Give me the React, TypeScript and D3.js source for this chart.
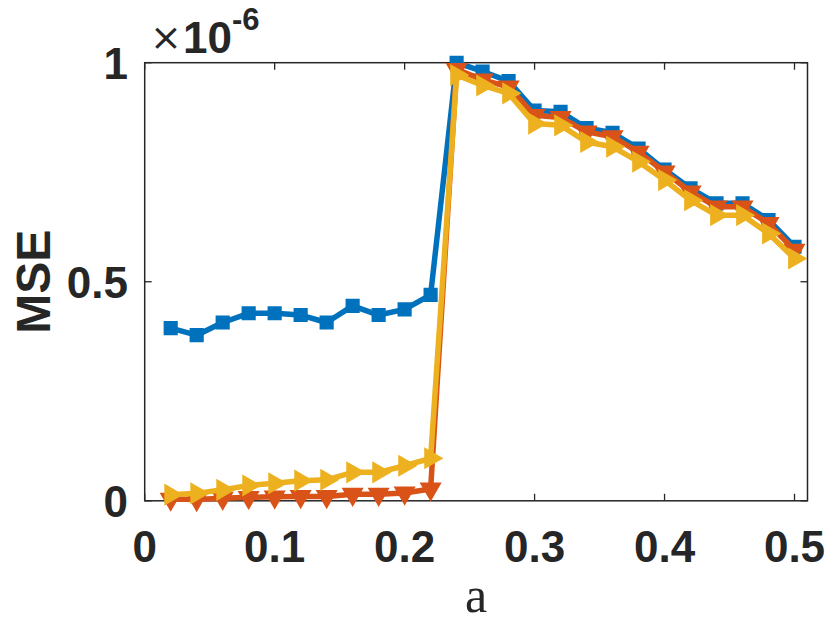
import React from "react";
import * as d3 from "d3";

// values are in units of 1e-6
const aValues = [
  0.02, 0.04, 0.06, 0.08, 0.1, 0.12, 0.14, 0.16, 0.18, 0.2, 0.22, 0.24, 0.26,
  0.28, 0.3, 0.32, 0.34, 0.36, 0.38, 0.4, 0.42, 0.44, 0.46, 0.48, 0.5,
];
const blueMse = [
  0.394, 0.378, 0.407, 0.428, 0.428, 0.424, 0.407, 0.445, 0.424, 0.437, 0.47,
  1.0, 0.98, 0.958, 0.891, 0.888, 0.851, 0.84, 0.804, 0.756, 0.713, 0.679,
  0.679, 0.641, 0.58,
];
const redMse = [
  0.004, 0.003, 0.006, 0.008, 0.009, 0.01, 0.01, 0.015, 0.015, 0.018, 0.027,
  0.985, 0.961, 0.945, 0.88, 0.875, 0.842, 0.831, 0.796, 0.751, 0.705, 0.671,
  0.671, 0.633, 0.572,
];
const yellowMse = [
  0.014, 0.017, 0.025, 0.035, 0.04, 0.046, 0.048, 0.065, 0.065, 0.08, 0.097,
  0.972, 0.948, 0.93, 0.861, 0.857, 0.819, 0.808, 0.774, 0.732, 0.686, 0.652,
  0.652, 0.61, 0.553,
];
const xTicks = [0, 0.1, 0.2, 0.3, 0.4, 0.5];
const yTicks = [0, 0.5, 1];

const width = 830;
const height = 626;
const left = 144.7;
const right = 807.5;
const top = 62.7;
const bottom = 500.8;
const axisColor = "#262626";
const sansBold = "'Liberation Sans', Arial, sans-serif";

const x = d3.scaleLinear().domain([0, 0.51]).range([left, right]);
const y = d3.scaleLinear().domain([0, 1]).range([bottom, top]);

const line = d3
  .line<number>()
  .x((_, i) => x(aValues[i]))
  .y((d) => y(d));

const squarePath = d3.symbol(d3.symbolSquare, 160)()!;
const trianglePath = d3.symbol(d3.symbolTriangle, 165)()!;

interface Series {
  values: number[];
  color: string;
  marker: string;
  rotate: number;
}

const series: Series[] = [
  { values: blueMse, color: "#0072BD", marker: squarePath, rotate: 0 },
  { values: redMse, color: "#D95319", marker: trianglePath, rotate: 180 },
  { values: yellowMse, color: "#EDB120", marker: trianglePath, rotate: 90 },
];

export default function App() {
  const tickLen = 7;
  return (
    <div style={{ position: "absolute", left: 0, top: 0 }}>
      <svg width={width} height={height} style={{ display: "block", background: "white" }}>
        {/* ticks on all four sides */}
        {xTicks.map((t) => (
          <g key={"xt" + t}>
            <line x1={x(t)} x2={x(t)} y1={bottom} y2={bottom - tickLen} stroke={axisColor} strokeWidth={1.3} />
            <line x1={x(t)} x2={x(t)} y1={top} y2={top + tickLen} stroke={axisColor} strokeWidth={1.3} />
            <text
              x={x(t)}
              y={562}
              textAnchor="middle"
              fontFamily={sansBold}
              fontWeight="bold"
              fontSize={44}
              fill={axisColor}
            >
              {t === 0 ? "0" : String(t)}
            </text>
          </g>
        ))}
        {yTicks.map((t) => (
          <g key={"yt" + t}>
            <line x1={left} x2={left + tickLen} y1={y(t)} y2={y(t)} stroke={axisColor} strokeWidth={1.3} />
            <line x1={right} x2={right - tickLen} y1={y(t)} y2={y(t)} stroke={axisColor} strokeWidth={1.3} />
            <text
              x={128}
              y={y(t)}
              dy="0.36em"
              textAnchor="end"
              fontFamily={sansBold}
              fontWeight="bold"
              fontSize={44}
              fill={axisColor}
            >
              {String(t)}
            </text>
          </g>
        ))}
        <rect
          x={left}
          y={top}
          width={right - left}
          height={bottom - top}
          fill="none"
          stroke={axisColor}
          strokeWidth={1.5}
        />

        {series.map((s, si) => (
          <g key={"s" + si}>
            <path d={line(s.values)!} fill="none" stroke={s.color} strokeWidth={5.5} strokeLinejoin="round" />
            {s.values.map((v, i) => (
              <path
                key={i}
                d={s.marker}
                transform={`translate(${x(aValues[i])},${y(v)}) rotate(${s.rotate})`}
                fill={s.color}
                stroke={s.color}
                strokeWidth={1.5}
              />
            ))}
          </g>
        ))}

        {/* exponent label */}
        <text x={150} y={50} fontFamily="'DejaVu Sans', sans-serif" fontSize={38} fill={axisColor}>
          ×
        </text>
        <text x={183} y={53} fontFamily={sansBold} fontWeight="bold" fontSize={44} fill={axisColor}>
          10
        </text>
        <text x={232} y={30} fontFamily={sansBold} fontWeight="bold" fontSize={31} fill={axisColor}>
          -6
        </text>

        <text
          transform={`translate(50,${(top + bottom) / 2}) rotate(-90)`}
          textAnchor="middle"
          fontFamily={sansBold}
          fontWeight="bold"
          fontSize={48}
          fill={axisColor}
        >
          MSE
        </text>
        <text
          x={(left + right) / 2}
          y={612}
          textAnchor="middle"
          fontFamily="'Liberation Serif', 'DejaVu Serif', serif"
          fontSize={50}
          fill={axisColor}
        >
          a
        </text>
      </svg>
    </div>
  );
}
